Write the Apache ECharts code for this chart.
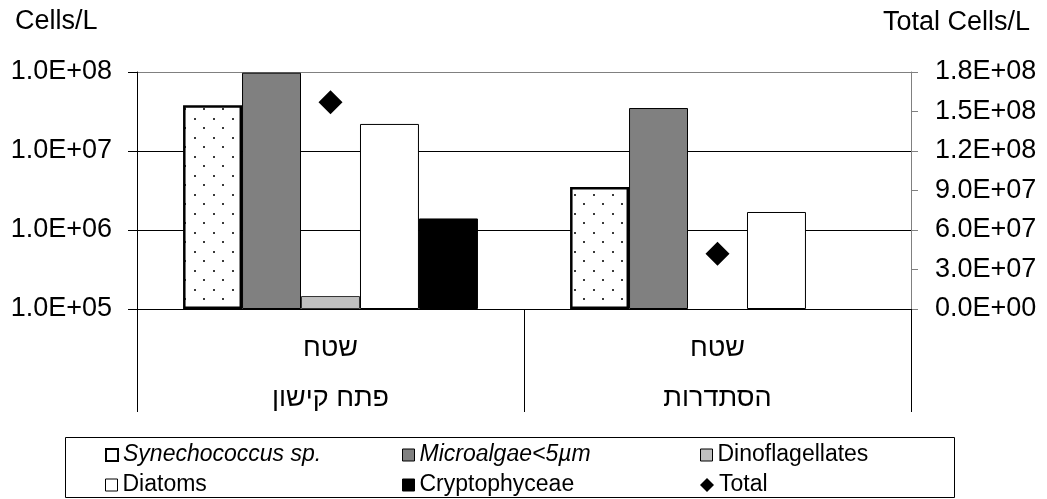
<!DOCTYPE html>
<html><head><meta charset="utf-8">
<script src="https://cdn.jsdelivr.net/npm/echarts@6/dist/echarts.min.js"></script>
<style>html,body{margin:0;padding:0;background:#fff}#c{width:1047px;height:499px}</style>
</head><body><div id="c"></div>
<script>
// ---- data ----
const sites = ['פתח קישון', 'הסתדרות'];
const subLabel = 'שטח';
const seriesNames = ['Synechococcus sp.', 'Microalgae<5µm', 'Dinoflagellates', 'Diatoms', 'Cryptophyceae', 'Total'];
const synechococcus = [3.8e7, 3.5e6];
const microalgae = [9.8e7, 3.5e7];
const dinoflagellates = [1.46e5, null];
const diatoms = [2.2e7, 1.69e6];
const cryptophyceae = [1.4e6, null];
const total = [1.57e8, 4.2e7];
const leftTitle = 'Cells/L';
const rightTitle = 'Total Cells/L';

// ---- style ----
const FF = '"Liberation Sans", Arial, sans-serif';
const FS = 27;
function fmtExp(v) {
  if (v === 0) return '0.0E+00';
  let s = Number(v).toExponential(1).split('e');
  let m = s[0], ex = parseInt(s[1], 10);
  const sign = ex < 0 ? '-' : '+';
  ex = Math.abs(ex);
  return m + 'E' + sign + (ex < 10 ? '0' + ex : '' + ex);
}
const pc = document.createElement('canvas');
pc.width = 19; pc.height = 19;
const g = pc.getContext('2d');
g.fillStyle = '#fff'; g.fillRect(0, 0, 19, 19);
g.fillStyle = '#3a3a3a';
g.fillRect(4, 4, 2, 2);
g.fillRect(13, 13, 2, 2);

const chart = echarts.init(document.getElementById('c'), null, {renderer: 'canvas'});

const legendCols = [105, 402, 700];
const legendRows = [441, 471];
const legendItems = [
  {name: seriesNames[0], italic: true, icon: 'rect', itemStyle: {color: '#fff', borderColor: '#000', borderWidth: 2, opacity: 1}},
  {name: seriesNames[1], italic: true, icon: 'rect', itemStyle: {color: '#808080', borderColor: '#000', borderWidth: 1, opacity: 1}},
  {name: seriesNames[2], italic: false, icon: 'rect', itemStyle: {color: '#c0c0c0', borderColor: '#000', borderWidth: 1, opacity: 1}},
  {name: seriesNames[3], italic: false, icon: 'rect', itemStyle: {color: '#fff', borderColor: '#000', borderWidth: 1, opacity: 1}},
  {name: seriesNames[4], italic: false, icon: 'rect', itemStyle: {color: '#000', borderColor: '#000', borderWidth: 1, opacity: 1}},
  {name: seriesNames[5], italic: false, icon: 'diamond', itemStyle: {color: '#000', borderWidth: 0, opacity: 1}}
];
const legends = legendItems.map((it, i) => ({
  left: legendCols[i % 3],
  top: legendRows[Math.floor(i / 3)],
  padding: 0,
  itemWidth: it.icon === 'diamond' ? 14 : 12,
  itemHeight: it.icon === 'diamond' ? 14 : 12,
  selectedMode: false,
  data: [{name: it.name, icon: it.icon, itemStyle: it.itemStyle,
          textStyle: {fontStyle: it.italic ? 'italic' : 'normal'}}],
  textStyle: {fontSize: 23, color: '#000', fontFamily: FF, lineHeight: 28, padding: [0, 0, 0, 0]}
}));

const option = {
  animation: false,
  backgroundColor: '#fff',
  textStyle: {fontFamily: FF},
  grid: {left: 137, right: 136, top: 72, bottom: 190, containLabel: false},
  legend: legends,
  xAxis: [
    {type: 'category', data: sites, boundaryGap: true, position: 'bottom',
     axisLine: {show: true, lineStyle: {color: '#000', width: 1}},
     axisTick: {show: true, length: 103, lineStyle: {color: '#000', width: 1}},
     axisLabel: {formatter: () => subLabel, margin: 26, fontSize: FS, color: '#000', fontFamily: FF},
     splitLine: {show: false}},
    {type: 'category', data: sites, boundaryGap: true, position: 'bottom', gridIndex: 0,
     axisLine: {show: false}, axisTick: {show: false}, splitLine: {show: false},
     axisLabel: {margin: 76, fontSize: FS, color: '#000', fontFamily: FF}}
  ],
  yAxis: [
    {type: 'log', logBase: 10, min: 1e5, max: 1e8, startValue: 1e5, position: 'left',
     axisLine: {show: true, lineStyle: {color: '#000', width: 1}},
     axisTick: {show: true, inside: false, length: 9, lineStyle: {color: '#000'}},
     minorTick: {show: false}, minorSplitLine: {show: false},
     axisLabel: {formatter: fmtExp, margin: 25, fontSize: FS, color: '#000', fontFamily: FF},
     splitLine: {show: true, lineStyle: {color: ['#000', '#000', '#000', '#808080'], width: 1}}},
    {type: 'value', min: 0, max: 1.8e8, interval: 3e7, position: 'right',
     axisLine: {show: true, lineStyle: {color: '#808080', width: 1}},
     axisTick: {show: true, inside: false, length: 7, lineStyle: {color: '#808080'}},
     axisLabel: {formatter: fmtExp, margin: 24, fontSize: FS, color: '#000', fontFamily: FF},
     splitLine: {show: false}}
  ],
  series: [
    {type: 'bar', name: seriesNames[0], data: synechococcus, barGap: '0%', barCategoryGap: '23.8%',
     itemStyle: {color: {image: pc, repeat: 'repeat'}, borderColor: '#000', borderWidth: 2.5}},
    {type: 'bar', name: seriesNames[1], data: microalgae,
     itemStyle: {color: '#808080', borderColor: '#000', borderWidth: 1}},
    {type: 'bar', name: seriesNames[2], data: dinoflagellates,
     itemStyle: {color: '#c0c0c0', borderColor: '#333', borderWidth: 1}},
    {type: 'bar', name: seriesNames[3], data: diatoms,
     itemStyle: {color: '#fff', borderColor: '#000', borderWidth: 1}},
    {type: 'bar', name: seriesNames[4], data: cryptophyceae,
     itemStyle: {color: '#000', borderColor: '#000', borderWidth: 1}},
    {type: 'scatter', name: seriesNames[5], data: total, yAxisIndex: 1, symbol: 'diamond', symbolSize: 24,
     itemStyle: {color: '#000', opacity: 1}, z: 5}
  ],
  graphic: [
    {type: 'text', left: 15, top: 8, style: {text: leftTitle, fontSize: FS, fill: '#000', fontFamily: FF}},
    {type: 'text', right: 17, top: 9, style: {text: rightTitle, fontSize: FS, fill: '#000', fontFamily: FF}},
    {type: 'rect', shape: {x: 65.5, y: 437.5, width: 889, height: 60}, style: {fill: 'none', stroke: '#000', lineWidth: 1}, z: -1}
  ]
};
chart.setOption(option);
</script>
</body></html>
